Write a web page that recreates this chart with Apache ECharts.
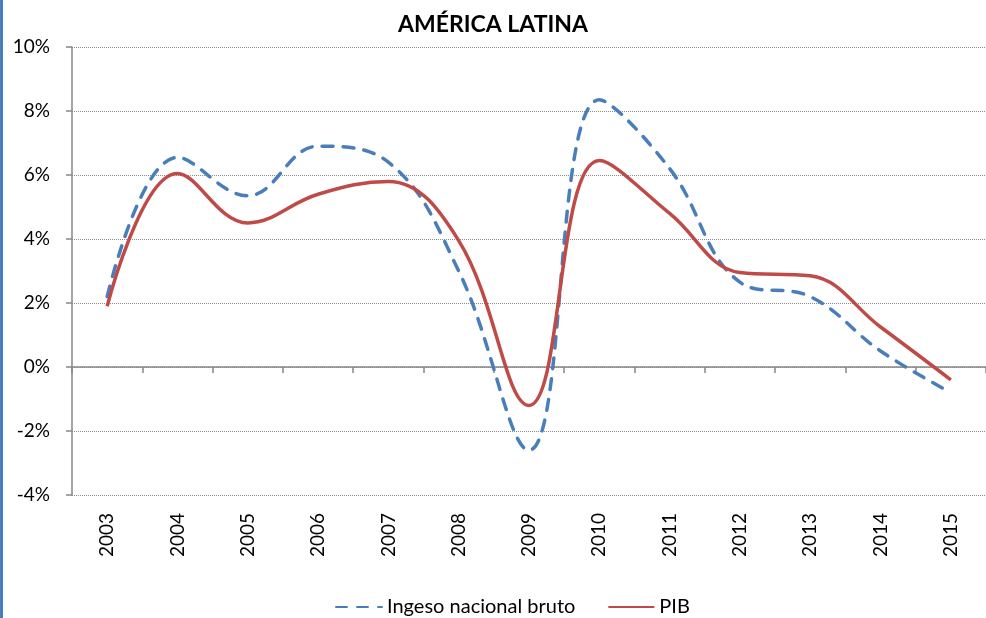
<!DOCTYPE html>
<html>
<head>
<meta charset="utf-8">
<script src="https://cdn.jsdelivr.net/npm/echarts@6/dist/echarts.min.js"></script>
<style>
  html, body { margin: 0; padding: 0; background: #fff; }
  #chart { width: 986px; height: 618px; }
</style>
</head>
<body>
<div id="chart"></div>
<script>
// datos
var years = ['2003', '2004', '2005', '2006', '2007', '2008', '2009', '2010', '2011', '2012', '2013', '2014', '2015'];
var ingreso = [2.2, 6.55, 5.35, 6.9, 6.4, 3.0, -2.6, 8.35, 6.2, 2.65, 2.2, 0.5, -0.8];
var pib = [1.9, 6.05, 4.5, 5.4, 5.8, 3.95, -1.2, 6.45, 4.8, 2.95, 2.85, 1.25, -0.4];
var yTicks = { min: -4, max: 10, step: 2 };

var font = 'Lato, "Open Sans", sans-serif';
var myChart = echarts.init(document.getElementById('chart'));

var option = {
  backgroundColor: '#fff',
  animation: false,
  title: {
    text: 'AMÉRICA LATINA',
    left: 'center',
    top: 8,
    textStyle: { fontFamily: font, fontSize: 23, fontWeight: 'bold', color: '#000' }
  },
  graphic: [{
    type: 'rect',
    left: 0, top: 0,
    shape: { width: 3, height: 618 },
    style: { fill: '#4A7EBB' }
  }],
  legend: {
    top: 592,
    left: 330,
    itemWidth: 46,
    itemHeight: 10,
    itemGap: 32,
    itemStyle: { opacity: 0 },
    textStyle: { fontFamily: font, fontSize: 20, color: '#000' },
    data: ['Ingeso nacional bruto', 'PIB']
  },
  grid: { left: 72, top: 47, width: 923, height: 448 },
  xAxis: [{
    type: 'category',
    data: years,
    position: 'bottom',
    axisLine: { show: false, onZero: false },
    axisTick: { show: false },
    axisLabel: { rotate: 90, margin: 18, fontFamily: font, fontSize: 19, color: '#000' }
  }, {
    // linea del cero con sus marcas
    type: 'category',
    data: years,
    position: 'top',
    axisLine: { show: true, onZero: true, lineStyle: { color: '#868686', width: 1.5 } },
    axisTick: { show: true, inside: true, length: 6, lineStyle: { color: '#868686', width: 1.5 } },
    axisLabel: { show: false },
    splitLine: { show: false }
  }],
  yAxis: {
    type: 'value',
    min: yTicks.min,
    max: yTicks.max,
    interval: yTicks.step,
    axisLine: { show: true, lineStyle: { color: '#868686', width: 1.5 } },
    axisTick: { show: true, length: 6, lineStyle: { color: '#868686', width: 1.5 } },
    axisLabel: {
      margin: 22,
      fontFamily: font, fontSize: 19, color: '#000',
      formatter: '{value}%'
    },
    splitLine: { lineStyle: { color: '#8c8c8c', type: 'dotted', width: 1 } }
  },
  series: [{
    name: 'Ingeso nacional bruto',
    type: 'line',
    data: ingreso,
    smooth: 0.4,
    symbol: 'none',
    itemStyle: { color: '#4A7EBB' },
    lineStyle: { color: '#4A7EBB', width: 3.5, type: [11, 10], cap: 'round' }
  }, {
    name: 'PIB',
    type: 'line',
    data: pib,
    smooth: 0.4,
    symbol: 'none',
    itemStyle: { color: '#BE4B48' },
    lineStyle: { color: '#BE4B48', width: 3.5 }
  }]
};

myChart.setOption(option);
window.addEventListener('resize', function () {
  myChart.resize();
});
</script>
</body>
</html>
